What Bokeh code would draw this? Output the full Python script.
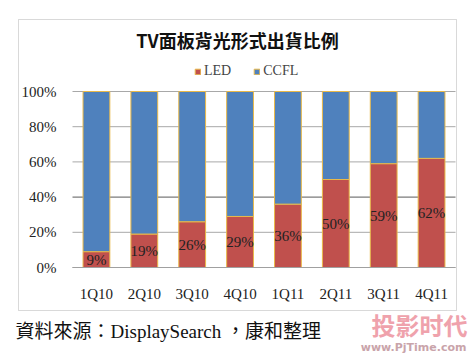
from bokeh.plotting import figure
from bokeh.models import (ColumnDataSource, Label, BoxAnnotation, Legend, LegendItem,
                          Range1d, FixedTicker, PrintfTickFormatter, LabelSet)
from bokeh.core.properties import value
from bokeh.embed import file_html
from bokeh.resources import INLINE

quarters = ["1Q10", "2Q10", "3Q10", "4Q10", "1Q11", "2Q11", "3Q11", "4Q11"]
led = [9, 19, 26, 29, 36, 50, 59, 62]
ccfl = [91, 81, 74, 71, 64, 50, 41, 38]
led_labels = ["9%", "19%", "26%", "29%", "36%", "50%", "59%", "62%"]
y_ticks = [0, 20, 40, 60, 80, 100]
title_text = "TV面板背光形式出貨比例"
source_text = "資料來源：DisplaySearch ，康和整理"

RED = "#C0504D"
BLUE = "#4F81BD"
SERIF = "'Liberation Serif', 'Noto Sans CJK TC', serif"
W, H = 469, 354

xpos = list(range(len(quarters)))
src = ColumnDataSource(dict(x=xpos, LED=led, CCFL=ccfl, lab=led_labels,
                            mid=[v / 2 for v in led]))

# plot area: x from 72px to 455px, y from 267px (0%) to 91px (100%)
px_per_cat = (455 - 72) / len(quarters)
x_start = xpos[0] - 0.5 - 72 / px_per_cat
x_end = xpos[-1] + 0.5 + (W - 455) / px_per_cat
px_per_pct = (267 - 91) / 100
y_start = -(H - 267) / px_per_pct
y_end = 100 + 91 / px_per_pct

p = figure(x_range=Range1d(x_start, x_end), y_range=Range1d(y_start, y_end),
           width=W, height=H, output_backend="svg", toolbar_location=None,
           min_border=0, min_border_left=0, min_border_right=0,
           min_border_top=0, min_border_bottom=0)
p.outline_line_color = None
p.background_fill_color = "white"
p.border_fill_color = "white"
p.xgrid.grid_line_color = None
p.ygrid.grid_line_color = None

# horizontal gridlines limited to the plot area
grid_colors = ["#5A5A5A" if t == 40 else "#A8A8A8" for t in y_ticks]
p.segment(x0=xpos[0] - 0.5, x1=xpos[-1] + 0.5, y0=y_ticks, y1=y_ticks,
          line_color=grid_colors, line_width=1)

rs = p.vbar_stack(["LED", "CCFL"], x="x", width=0.56, source=src, color=[RED, BLUE],
                  line_color="#E9B949", line_width=1)

labels = LabelSet(x="x", y="mid", text="lab", source=src, text_align="center",
                  text_baseline="middle", text_font=value(SERIF), text_font_size="15px",
                  text_color="#222222")
p.add_layout(labels)

p.yaxis.fixed_location = xpos[0] - 0.5
p.yaxis.bounds = (0, 100)
p.yaxis.ticker = FixedTicker(ticks=y_ticks)
p.yaxis.formatter = PrintfTickFormatter(format="%d%%")
p.yaxis.axis_line_color = None
p.yaxis.major_tick_line_color = None
p.yaxis.minor_tick_line_color = None
p.yaxis.major_label_standoff = 10

p.xaxis.fixed_location = 0
p.xaxis.bounds = (xpos[0] - 0.5, xpos[-1] + 0.5)
p.xaxis.ticker = FixedTicker(ticks=xpos)
p.xaxis.major_label_overrides = {i: q for i, q in zip(xpos, quarters)}
p.xaxis.major_tick_line_color = None
p.xaxis.minor_tick_line_color = None
p.xaxis.axis_line_color = "#A0A0A0"
p.xaxis.major_label_standoff = 12
for ax in (p.xaxis, p.yaxis):
    ax.major_label_text_font = SERIF
    ax.major_label_text_font_size = "15px"
    ax.major_label_text_color = "#222222"

legend = Legend(items=[LegendItem(label="LED", renderers=[rs[0]]),
                       LegendItem(label="CCFL", renderers=[rs[1]])],
                orientation="horizontal", location=(194, 275),
                glyph_width=7, glyph_height=7, spacing=22, padding=0, margin=0,
                label_text_font=SERIF, label_text_font_size="14px",
                label_standoff=3, background_fill_alpha=0, border_line_color=None)
p.add_layout(legend, "center")

p.add_layout(BoxAnnotation(left=18, right=456, top=H - 19, bottom=H - 310,
                           left_units="screen", right_units="screen",
                           top_units="screen", bottom_units="screen",
                           fill_alpha=0, line_color="#808080", line_width=1))

p.add_layout(Label(x=237, y=H - 39, x_units="screen", y_units="screen", text=title_text,
                   text_align="center", text_baseline="middle",
                   text_font="Noto Sans CJK TC", text_font_size="18px",
                   text_font_style="bold", text_color="#111111"))
p.add_layout(Label(x=15, y=H - 331, x_units="screen", y_units="screen", text=source_text,
                   text_align="left", text_baseline="middle",
                   text_font=SERIF, text_font_size="19px", text_color="#111111"))
p.add_layout(Label(x=467, y=H - 324, x_units="screen", y_units="screen", text="投影时代",
                   text_align="right", text_baseline="middle",
                   text_font="Noto Sans CJK SC", text_font_size="24px",
                   text_font_style="bold", text_color="#EFA2AC"))
p.add_layout(Label(x=466, y=H - 347, x_units="screen", y_units="screen", text="www.PjTime.com",
                   text_align="right", text_baseline="middle",
                   text_font="DejaVu Sans", text_font_size="11px",
                   text_font_style="bold", text_color="#C9A4AA"))

open("out.html", "w").write(file_html(p, INLINE))
